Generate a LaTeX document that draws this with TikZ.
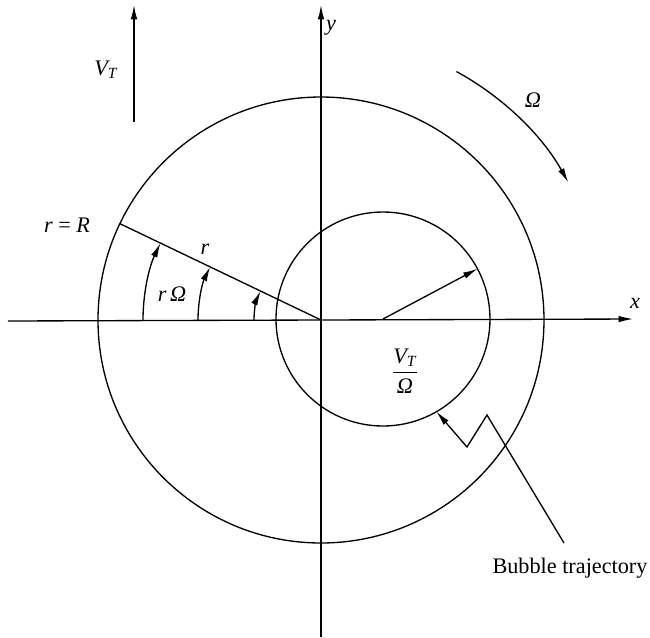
\documentclass[tikz,border=0pt]{standalone}
\usepackage{fontspec}
\setmainfont{Liberation Serif}
\usetikzlibrary{arrows.meta}
\newcommand\myVT{\mbox{\itshape V}_{\mbox{\scriptsize\itshape T}}}
\begin{document}
\begin{tikzpicture}[x=0.45pt,y=-0.45pt,line width=0.6pt,
  >={Latex[length=6.5pt,width=3pt]},
  lbl/.style={inner sep=0pt,font=\fontsize{10}{12}\selectfont}]
\useasboundingbox (0,0) rectangle (650,638);
% reference points
\coordinate (O) at (321,320);
\coordinate (C) at (383,319);
\coordinate (xl) at (8,321);
\coordinate (xr) at (633,319);
\coordinate (yb) at (321,637);
\coordinate (yt) at (321,5);
\coordinate (vb) at (134,122);
\coordinate (vt) at (134,5);
\coordinate (p1) at (564,543);
\coordinate (p2) at (487,415);
\coordinate (p3) at (467,447);
% axes
\draw[->] (xl) -- (xr);
\draw[->] (yb) -- (yt);
% circles
\draw (O) circle[radius=223];
\draw (C) circle[radius=107];
% radius line r = R
\draw (O) -- ([shift={(-154.4:223)}]O);
% angle arcs
\draw[->] ([shift={(180:178)}]O) arc[start angle=180,end angle=205.6,radius=178];
\draw[->] ([shift={(180:123)}]O) arc[start angle=180,end angle=205.6,radius=123];
\draw[->] ([shift={(180:67)}]O) arc[start angle=180,end angle=205.6,radius=67];
% Omega rotation
\draw[->] ([shift={(-61.4:283)}]O) arc[start angle=-61.4,end angle=-29.1,radius=283];
% inner radius V_T / Omega
\draw[->] (C) -- ([shift={(-28:107)}]C);
% V_T arrow
\draw[->] (vb) -- (vt);
% bubble trajectory pointer
\draw[->] (p1) -- (p2) -- (p3) -- ([shift={(60:107)}]C);
% labels
\node[lbl] (ylab) at (331,28) {\textit{y}};
\node[lbl] (xlab) at (635,303) {\textit{x}};
\node[lbl] (vtlab) at (106,70) {$\myVT$};
\node[lbl] (omlab) at (533,100) {\textit{Ω}};
\node[lbl] (rR) at (67,225) {\textit{r} = \textit{R}};
\node[lbl] (rlab) at (205,249) {\textit{r}};
\node[lbl] (rOm) at (172,294) {\textit{r}\,\textit{Ω}};
\node[lbl] (frac) at (405,371) {$\displaystyle\frac{\myVT}{\mbox{\itshape Ω}}$};
\node[lbl] (bub) at (570,568) {Bubble trajectory};
\end{tikzpicture}
\end{document}
